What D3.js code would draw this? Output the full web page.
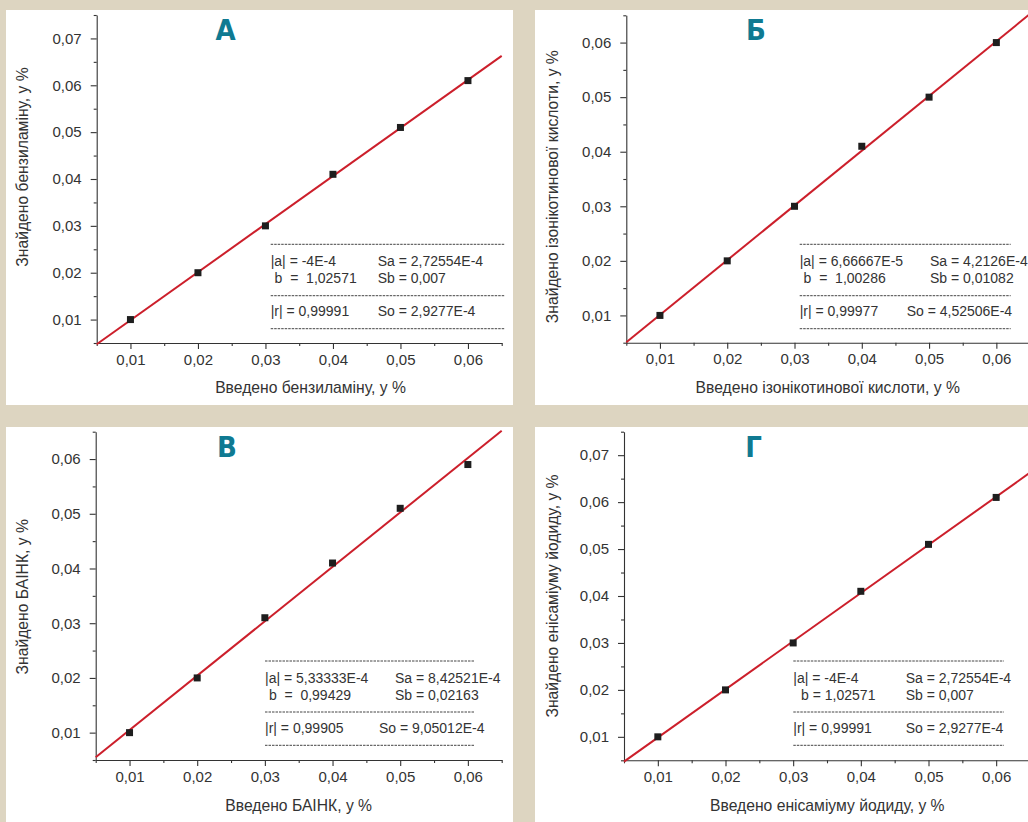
<html>
<head>
<meta charset="utf-8">
<style>
  body { margin: 0; background: #ddd5c1; }
  svg { display: block; }
  text { font-family: "Liberation Sans", Arial, sans-serif; }
</style>
</head>
<body>
<svg width="1028" height="822"></svg>
<script src="https://cdn.jsdelivr.net/npm/d3@7/dist/d3.min.js"></script>
<script>
// data
const introduced = [0.01, 0.02, 0.03, 0.04, 0.05, 0.06];
const foundA = [0.010, 0.020, 0.030, 0.041, 0.051, 0.061];
const foundB = [0.010, 0.020, 0.030, 0.041, 0.050, 0.060];
const foundV = [0.010, 0.020, 0.031, 0.041, 0.051, 0.059];
const foundG = [0.010, 0.020, 0.030, 0.041, 0.051, 0.061];
const intercepts = [-4e-4, 6.66667e-5, 5.33333e-4, -4e-4];
const slopes = [1.02571, 1.00286, 0.99429, 1.02571];
const letters = ["А", "Б", "В", "Г"];
const xTitles = ["Введено бензиламіну, у %", "Введено ізонікотинової кислоти, у %", "Введено БАІНК, у %", "Введено енісаміуму йодиду, у %"];
const yTitles = ["Знайдено бензиламіну, у %", "Знайдено ізонікотинової кислоти, у %", "Знайдено БАІНК, у %", "Знайдено енісаміуму йодиду, у %"];
const xTicks = [0.01, 0.02, 0.03, 0.04, 0.05, 0.06];
const yTicksA = [0.01, 0.02, 0.03, 0.04, 0.05, 0.06, 0.07];
const yTicksB = [0.01, 0.02, 0.03, 0.04, 0.05, 0.06];
const statsLeft = [
  ["|a| = -4E-4", " b  =  1,02571", "|r| = 0,99991"],
  ["|a| = 6,66667E-5", " b  =  1,00286", "|r| = 0,99977"],
  ["|a| = 5,33333E-4", " b  =  0,99429", "|r| = 0,99905"],
  ["|a| = -4E-4", "  b = 1,02571", "|r| = 0,99991"]
];
const statsRight = [
  ["Sa = 2,72554E-4", "Sb = 0,007", "So = 2,9277E-4"],
  ["Sa = 4,2126E-4", "Sb = 0,01082", "So = 4,52506E-4"],
  ["Sa = 8,42521E-4", "Sb = 0,02163", "So = 9,05012E-4"],
  ["Sa = 2,72554E-4", "Sb = 0,007", "So = 2,9277E-4"]
];

const svg = d3.select("svg");
const comma = v => d3.format(".2f")(v).replace(".", ",");

// layout of each panel (page pixels)
const panels = [
  {box:[6,10,507,395], l:96.7, r:501.7, t:15, b:343, yMax:0.075, found:foundA, yTicks:yTicksA,
   title:[225.5,40], xt:[310.5,393], yt:[28,167], st:{x0:270.7, x1:505, xr:377.7, xo:377.7, d:[244.3,295.7,328.7], rows:[265.5,283,315.5]}},
  {box:[535,10,493,395], l:626.3, r:1030, t:15.3, b:342.7, yMax:0.065, found:foundB, yTicks:yTicksB,
   title:[756,40], xt:[827.8,393], yt:[558,186.7], st:{x0:799.7, x1:1010.7, xr:930, xo:906.7, d:[244.3,295.7,328.7], rows:[265.5,283,315.5]}},
  {box:[6,427,507,395], l:95.7, r:501.7, t:431.7, b:760, yMax:0.065, found:foundV, yTicks:yTicksB,
   title:[227,457], xt:[298.7,811], yt:[28,596.8], st:{x0:265, x1:475, xr:395, xo:379, d:[661,712,745.3], rows:[682.5,700,733]}},
  {box:[535,427,493,395], l:624, r:1030, t:431.7, b:760.3, yMax:0.075, found:foundG, yTicks:yTicksA,
   title:[753.5,457], xt:[827.3,811], yt:[558,596], st:{x0:793.3, x1:1004, xr:905.7, xo:905.7, d:[661,712,745.3], rows:[682.5,700,733]}}
];

panels.forEach((p, i) => {
  const g = svg.append("g");
  g.append("rect").attr("x", p.box[0]).attr("y", p.box[1]).attr("width", p.box[2]).attr("height", p.box[3]).attr("fill", "#fff");

  const x = d3.scaleLinear().domain([0.005, 0.065]).range([p.l, p.r]);
  const y = d3.scaleLinear().domain([0.005, p.yMax]).range([p.b, p.t]);

  // minor ticks
  const xMinor = d3.range(0.005, 0.0651, 0.01);
  const yMinor = d3.range(0.005, p.yMax + 0.0001, 0.01);
  g.append("g").attr("transform", `translate(0,${p.b})`)
    .call(d3.axisBottom(x).tickValues(xMinor).tickSize(3).tickFormat(""))
    .call(a => a.select(".domain").remove());
  g.append("g").attr("transform", `translate(${p.l},0)`)
    .call(d3.axisLeft(y).tickValues(yMinor).tickSize(3).tickFormat(""))
    .call(a => a.select(".domain").remove());

  // major axes
  const xa = g.append("g").attr("transform", `translate(0,${p.b})`)
    .call(d3.axisBottom(x).tickValues(xTicks).tickSize(6).tickSizeOuter(0).tickPadding(5).tickFormat(comma));
  const ya = g.append("g").attr("transform", `translate(${p.l},0)`)
    .call(d3.axisLeft(y).tickValues(p.yTicks).tickSize(6).tickSizeOuter(0).tickPadding(9).tickFormat(comma));
  [xa, ya].forEach(a => {
    a.selectAll("text").attr("font-size", 15).attr("fill", "#333").style("font-family", '"Liberation Sans", Arial, sans-serif');
  });
  g.selectAll(".domain, .tick line").attr("stroke", "#333").attr("stroke-width", 1.1);

  // fit line
  const fit = xv => intercepts[i] + slopes[i] * xv;
  g.append("path")
    .datum(x.domain())
    .attr("d", d3.line().x(d => x(d)).y(d => y(fit(d))))
    .attr("stroke", "#cc1f2b").attr("stroke-width", 2).attr("fill", "none");

  // points
  g.selectAll(".pt").data(introduced).join("rect")
    .attr("x", d => x(d) - 3.5)
    .attr("y", (d, k) => y(p.found[k]) - 3.5)
    .attr("width", 7).attr("height", 7).attr("fill", "#1e1e1e");

  // panel letter
  g.append("text").attr("x", p.title[0]).attr("y", p.title[1])
    .attr("text-anchor", "middle").attr("font-size", 29).attr("font-weight", "bold")
    .attr("fill", "#0f7a92")
    .style("font-family", '"Liberation Sans Narrow", "DejaVu Sans Condensed", "Roboto Condensed", sans-serif')
    .style("font-stretch", "condensed")
    .text(letters[i]);

  // axis titles
  g.append("text").attr("x", p.xt[0]).attr("y", p.xt[1]).attr("text-anchor", "middle")
    .attr("font-size", 15.7).attr("fill", "#333").text(xTitles[i]);
  g.append("text").attr("transform", `translate(${p.yt[0]},${p.yt[1]}) rotate(-90)`)
    .attr("text-anchor", "middle").attr("font-size", 15.7).attr("fill", "#333").text(yTitles[i]);

  // stats box
  const s = p.st;
  s.d.forEach(yy => {
    g.append("line").attr("x1", s.x0).attr("x2", s.x1).attr("y1", yy).attr("y2", yy)
      .attr("stroke", "#444").attr("stroke-width", 1).attr("stroke-dasharray", "2.5,1");
  });
  statsLeft[i].forEach((t, k) => {
    g.append("text").attr("x", s.x0).attr("y", s.rows[k]).attr("font-size", 14)
      .attr("fill", "#333").style("white-space", "pre").text(t);
  });
  statsRight[i].forEach((t, k) => {
    g.append("text").attr("x", k === 2 ? s.xo : s.xr).attr("y", s.rows[k]).attr("font-size", 14)
      .attr("fill", "#333").style("white-space", "pre").text(t);
  });
});
</script>
</body>
</html>
